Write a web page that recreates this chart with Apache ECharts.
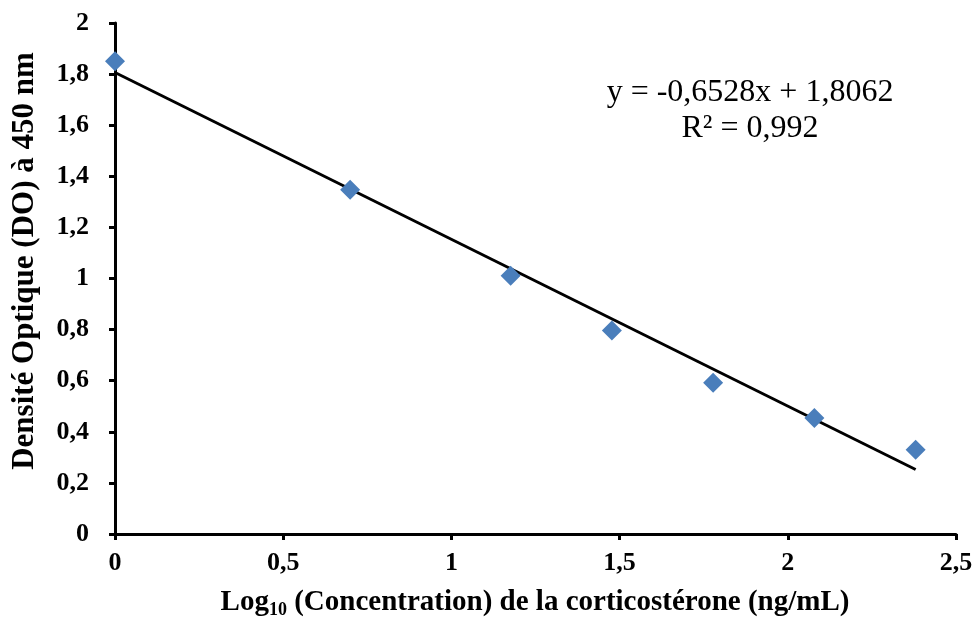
<!DOCTYPE html>
<html>
<head>
<meta charset="utf-8">
<style>
  html, body { margin: 0; padding: 0; background: #fff; }
  #chart { width: 976px; height: 622px; }
</style>
<script src="https://cdn.jsdelivr.net/npm/echarts@6/dist/echarts.min.js"></script>
</head>
<body>
<div id="chart"></div>
<script>
// Calibration standards: log10 of corticosterone concentration vs optical density
const logConc = [0, 0.699, 1.176, 1.477, 1.778, 2.079, 2.380];
const opticalDensity = [1.850, 1.347, 1.011, 0.796, 0.592, 0.454, 0.330];

// Linear fit reported on the chart
const slope = -0.6528;
const intercept = 1.8062;
const rSquared = 0.992;

const xTicks = { min: 0, max: 2.5, interval: 0.5 };
const yTicks = { min: 0, max: 2, interval: 0.2 };

const FONT = '"Liberation Serif", "Times New Roman", serif';
const decimalComma = v => String(v).replace('.', ',');
const tickText = v => '{t|' + decimalComma(+v.toFixed(2)) + '}';

const points = logConc.map((x, i) => [x, opticalDensity[i]]);
const xFitEnd = logConc[logConc.length - 1];
const fitLine = [[0, intercept], [xFitEnd, intercept + slope * xFitEnd]];

const chart = echarts.init(document.getElementById('chart'), null, { renderer: 'canvas' });

const tickFont = { fontFamily: FONT, fontWeight: 'bold', fontSize: 26, color: '#000' };

function labelStyle(margin) {
  return Object.assign({
    show: true,
    margin: margin,
    formatter: tickText,
    rich: { t: Object.assign({}, tickFont) }
  }, tickFont);
}

const axisLine = { show: true, lineStyle: { color: '#000', width: 3 } };
const axisTick = { show: true, inside: false, length: 6, lineStyle: { color: '#000', width: 3 } };

chart.setOption({
  animation: false,
  backgroundColor: '#fff',
  textStyle: { fontFamily: FONT },
  grid: { left: 115, right: 20, top: 23, bottom: 88, containLabel: false },
  xAxis: {
    type: 'value',
    min: xTicks.min, max: xTicks.max, interval: xTicks.interval,
    axisLine: axisLine, axisTick: axisTick, splitLine: { show: false },
    axisLabel: labelStyle(16)
  },
  yAxis: {
    type: 'value',
    min: yTicks.min, max: yTicks.max, interval: yTicks.interval,
    axisLine: axisLine, axisTick: axisTick, splitLine: { show: false },
    axisLabel: labelStyle(26)
  },
  series: [
    {
      type: 'line',
      data: fitLine,
      symbol: 'none',
      lineStyle: { color: '#000', width: 3 },
      z: 2
    },
    {
      type: 'scatter',
      data: points,
      symbol: 'diamond',
      symbolSize: [20, 20],
      itemStyle: { color: '#4A7EBB', opacity: 1 },
      z: 3
    }
  ],
  graphic: [
    {
      type: 'text',
      x: 25, y: 261,
      rotation: Math.PI / 2,
      style: {
        text: 'Densité Optique (DO) à 450 nm',
        fontFamily: FONT, fontWeight: 'bold', fontSize: 31,
        fill: '#000', align: 'center', verticalAlign: 'middle'
      }
    },
    {
      type: 'text',
      x: 535, y: 603,
      style: {
        text: 'Log{sub|10} (Concentration) de la corticostérone (ng/mL)',
        fontFamily: FONT, fontWeight: 'bold', fontSize: 29,
        fill: '#000', align: 'center', verticalAlign: 'middle',
        rich: {
          sub: { fontFamily: FONT, fontWeight: 'bold', fontSize: 18, padding: [14, 0, 0, 0] }
        }
      }
    },
    {
      type: 'text',
      x: 750, y: 111,
      style: {
        text: 'y = ' + decimalComma(slope) + 'x + ' + decimalComma(intercept) + '\nR² = ' + decimalComma(rSquared),
        fontFamily: FONT, fontSize: 32, lineHeight: 36,
        fill: '#000', align: 'center', verticalAlign: 'middle'
      }
    }
  ]
});
</script>
</body>
</html>
